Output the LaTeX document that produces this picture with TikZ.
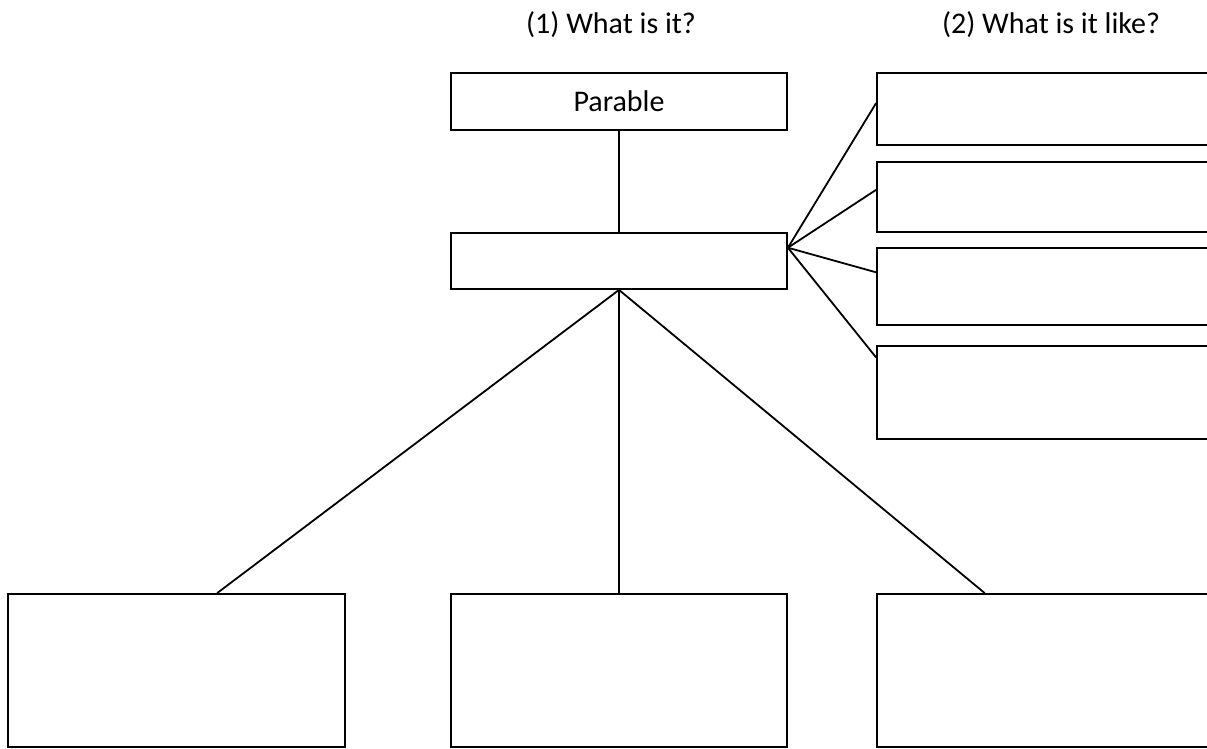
\documentclass[tikz,border=0pt]{standalone}
\usepackage{fontspec}
\setmainfont{Carlito}
\usetikzlibrary{calc}

\tikzset{
  card/.style={draw, line width=1.8pt, rectangle, inner sep=0pt, fill=white},
  heading/.style={font=\fontsize{30}{36}\selectfont, anchor=base, inner sep=0pt},
  link/.style={line width=1.8pt}
}

\begin{document}
\begin{tikzpicture}[x=1pt, y=-1pt]
    \useasboundingbox (0,0) rectangle (1207,748);
    \clip (0,0) rectangle (1207,748);
    % Headings
    \node[heading] (hwhat) at (611,33) {(1) What is it?};
    \node[heading] (hlike) at (1051,33) {(2) What is it like?};
    % Middle column
    \node[card, minimum width=336pt, minimum height=57pt, font=\fontsize{30}{36}\selectfont] (parable) at (619,101.5) {Parable};
    \node[card, minimum width=336pt, minimum height=56pt] (topic) at (619,261) {};
    % Right column
    \node[card, minimum width=343pt, minimum height=72pt] (like1) at (1048.5,109) {};
    \node[card, minimum width=343pt, minimum height=70pt] (like2) at (1048.5,197) {};
    \node[card, minimum width=343pt, minimum height=77pt] (like3) at (1048.5,286.5) {};
    \node[card, minimum width=343pt, minimum height=93pt] (like4) at (1048.5,392.5) {};
    % Bottom row
    \node[card, minimum width=337pt, minimum height=153pt] (part1) at (176.5,670.5) {};
    \node[card, minimum width=336pt, minimum height=153pt] (part2) at (619,670.5) {};
    \node[card, minimum width=343pt, minimum height=153pt] (part3) at (1048.5,670.5) {};
    % Links
    \coordinate (hub) at ($(topic.north east)!0.27!(topic.south east)$);
    \draw[link] (parable.south) -- (topic.north);
    \draw[link] (hub) -- ($(like1.north west)!0.42!(like1.south west)$);
    \draw[link] (hub) -- ($(like2.north west)!0.40!(like2.south west)$);
    \draw[link] (hub) -- ($(like3.north west)!0.32!(like3.south west)$);
    \draw[link] (hub) -- ($(like4.north west)!0.13!(like4.south west)$);
    \draw[link] (topic.south) -- ($(part1.north west)!0.62!(part1.north east)$);
    \draw[link] (topic.south) -- (part2.north);
    \draw[link] (topic.south) -- ($(part3.north west)!0.315!(part3.north east)$);
\end{tikzpicture}
\end{document}
